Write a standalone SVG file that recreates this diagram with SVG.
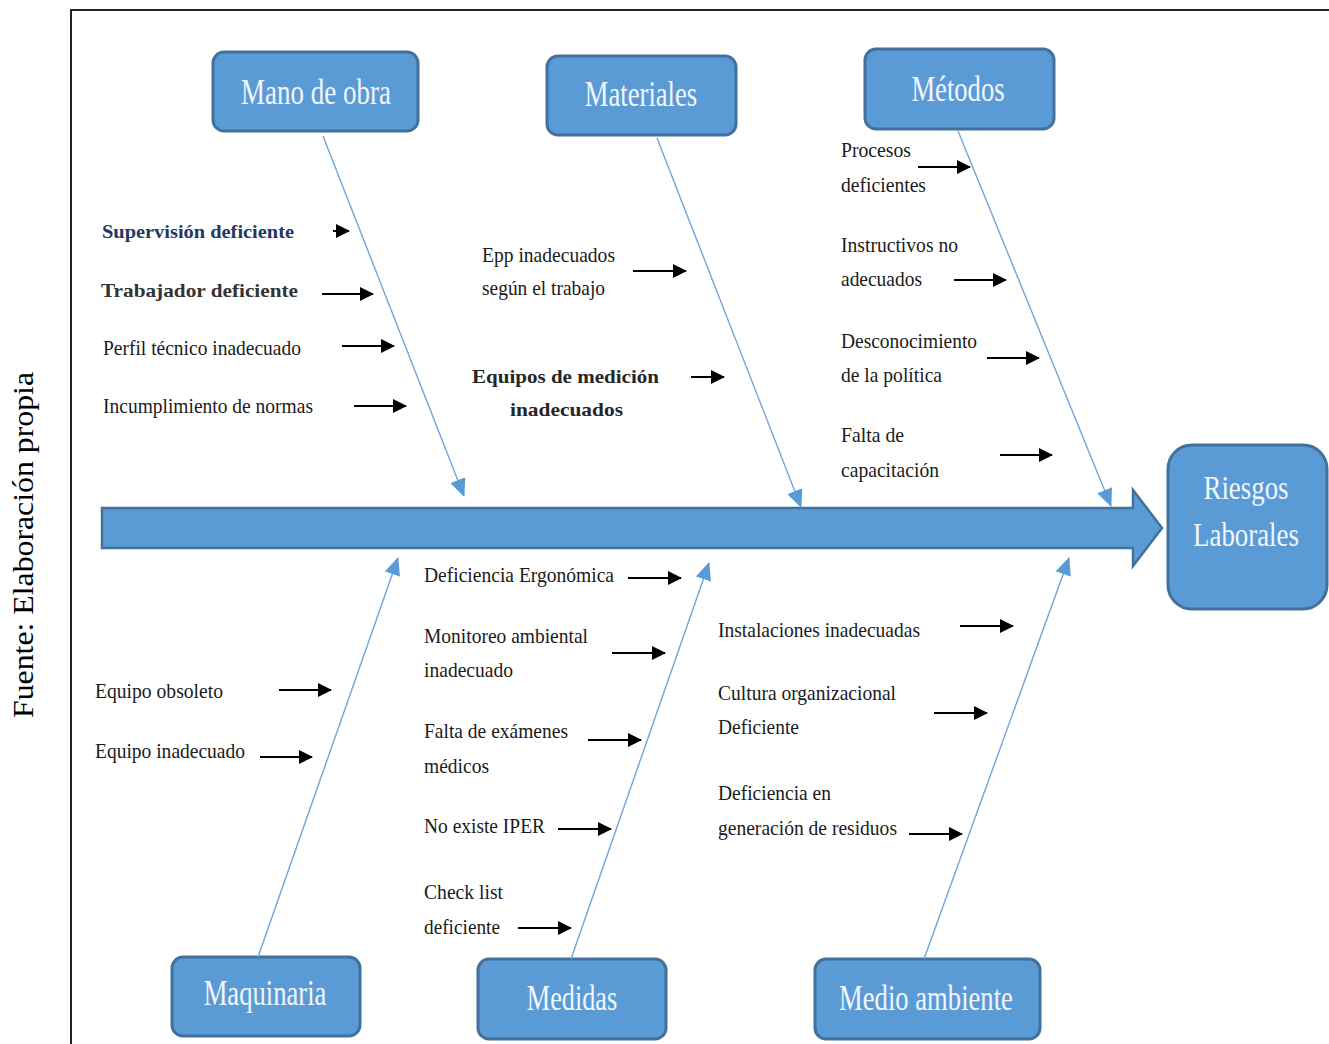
<svg xmlns="http://www.w3.org/2000/svg" width="1329" height="1044" viewBox="0 0 1329 1044">
<defs>
<style>
.box{fill:#5B9BD5;stroke:#41719C;stroke-width:3}
.bone{stroke:#6FA6DA;stroke-width:1.4;fill:none;marker-end:url(#bh)}
.ca{stroke:#000;stroke-width:2;fill:none;marker-end:url(#ah)}
</style>
<marker id="bh" markerUnits="userSpaceOnUse" markerWidth="18" markerHeight="16" viewBox="0 0 18 16" refX="17" refY="8" orient="auto">
<path d="M0,0 L18,8 L0,16 Z" fill="#5B9BD5"/>
</marker>
<marker id="ah" markerUnits="userSpaceOnUse" markerWidth="14" markerHeight="14" viewBox="0 0 14 14" refX="13" refY="7" orient="auto">
<path d="M0,0 L14,7 L0,14 Z" fill="#000"/>
</marker>
</defs>
<rect width="1329" height="1044" fill="#fff"/>
<path d="M71,1044 V10 H1329" fill="none" stroke="#222" stroke-width="2"/>
<g font-family="Liberation Serif, Times New Roman, serif">
<text transform="translate(33,545) rotate(-90)" font-size="29" fill="#000" text-anchor="middle" textLength="346" lengthAdjust="spacingAndGlyphs">Fuente: Elaboración propia</text>

<g id="spine">
<path d="M102,508 H1133 V490 L1162,528 L1133,566 V548 H102 Z" fill="#5B9BD5" stroke="#41719C" stroke-width="2.5"/>
</g>

<g font-size="36" fill="#F2F6FC" text-anchor="middle">
<g id="riesgos">
<rect class="box" x="1168" y="445" width="159" height="164" rx="24"/>
<text transform="translate(1246,499) scale(0.79,1)" font-size="34">Riesgos</text>
<text transform="translate(1246,546) scale(0.79,1)" font-size="34">Laborales</text>
</g>
<g id="mano-de-obra">
<rect class="box" x="213" y="52" width="205" height="79" rx="11"/>
<text transform="translate(316,104) scale(0.75,1)">Mano de obra</text>
</g>
<g id="materiales">
<rect class="box" x="547" y="56" width="189" height="79" rx="11"/>
<text transform="translate(641,106) scale(0.74,1)">Materiales</text>
</g>
<g id="metodos">
<rect class="box" x="865" y="49" width="189" height="80" rx="11"/>
<text transform="translate(958,101) scale(0.74,1)">Métodos</text>
</g>
<g id="maquinaria">
<rect class="box" x="172" y="957" width="188" height="79" rx="11"/>
<text transform="translate(265,1005) scale(0.74,1)">Maquinaria</text>
</g>
<g id="medidas">
<rect class="box" x="478" y="959" width="188" height="80" rx="11"/>
<text transform="translate(572,1010) scale(0.73,1)">Medidas</text>
</g>
<g id="medio-ambiente">
<rect class="box" x="815" y="959" width="225" height="80" rx="11"/>
<text transform="translate(926,1010) scale(0.74,1)">Medio ambiente</text>
</g>
</g>

<g id="connectors">
<line class="bone" x1="323" y1="136" x2="464" y2="496"/>
<line class="bone" x1="657" y1="138" x2="801" y2="507"/>
<line class="bone" x1="958" y1="131" x2="1111" y2="506"/>
<line class="bone" x1="258" y1="957" x2="398" y2="558"/>
<line class="bone" x1="571" y1="959" x2="709" y2="563"/>
<line class="bone" x1="924" y1="959" x2="1069" y2="558"/>

<line class="ca" x1="333" y1="231" x2="349" y2="231"/>
<line class="ca" x1="322" y1="294" x2="373" y2="294"/>
<line class="ca" x1="342" y1="346" x2="394" y2="346"/>
<line class="ca" x1="354" y1="406" x2="406" y2="406"/>

<line class="ca" x1="633" y1="271" x2="686" y2="271"/>
<line class="ca" x1="691" y1="377" x2="724" y2="377"/>

<line class="ca" x1="918" y1="167" x2="970" y2="167"/>
<line class="ca" x1="954" y1="280" x2="1006" y2="280"/>
<line class="ca" x1="987" y1="358" x2="1039" y2="358"/>
<line class="ca" x1="1000" y1="455" x2="1052" y2="455"/>

<line class="ca" x1="279" y1="690" x2="331" y2="690"/>
<line class="ca" x1="260" y1="757" x2="312" y2="757"/>

<line class="ca" x1="628" y1="578" x2="681" y2="578"/>
<line class="ca" x1="612" y1="653" x2="665" y2="653"/>
<line class="ca" x1="588" y1="740" x2="641" y2="740"/>
<line class="ca" x1="558" y1="829" x2="611" y2="829"/>
<line class="ca" x1="518" y1="928" x2="571" y2="928"/>

<line class="ca" x1="960" y1="626" x2="1013" y2="626"/>
<line class="ca" x1="934" y1="713" x2="987" y2="713"/>
<line class="ca" x1="909" y1="834" x2="962" y2="834"/>
</g>

<g font-size="19" font-weight="bold" fill="#262626">
<text id="t-supervision" x="102" y="238" fill="#1F3864" textLength="192" lengthAdjust="spacingAndGlyphs">Supervisión deficiente</text>
<text x="101" y="297" fill="#333" textLength="197" lengthAdjust="spacingAndGlyphs">Trabajador deficiente</text>
<text x="472" y="383" textLength="187" lengthAdjust="spacingAndGlyphs">Equipos de medición</text>
<text x="510" y="416" textLength="113" lengthAdjust="spacingAndGlyphs">inadecuados</text>
</g>

<g font-size="21" fill="#1a1a1a">
<g id="causes-mano-de-obra">
<text x="103" y="355" textLength="198" lengthAdjust="spacingAndGlyphs">Perfil técnico inadecuado</text>
<text x="103" y="413" textLength="210" lengthAdjust="spacingAndGlyphs">Incumplimiento de normas</text>
</g>
<g id="causes-materiales">
<text x="482" y="262" textLength="133" lengthAdjust="spacingAndGlyphs">Epp inadecuados</text>
<text x="482" y="295" textLength="123" lengthAdjust="spacingAndGlyphs">según el trabajo</text>
</g>
<g id="causes-metodos">
<text x="841" y="157" textLength="70" lengthAdjust="spacingAndGlyphs">Procesos</text>
<text x="841" y="192" textLength="85" lengthAdjust="spacingAndGlyphs">deficientes</text>
<text x="841" y="252" textLength="117" lengthAdjust="spacingAndGlyphs">Instructivos no</text>
<text x="841" y="286" textLength="81" lengthAdjust="spacingAndGlyphs">adecuados</text>
<text x="841" y="348" textLength="136" lengthAdjust="spacingAndGlyphs">Desconocimiento</text>
<text x="841" y="382" textLength="101" lengthAdjust="spacingAndGlyphs">de la política</text>
<text x="841" y="442" textLength="63" lengthAdjust="spacingAndGlyphs">Falta de</text>
<text x="841" y="477" textLength="98" lengthAdjust="spacingAndGlyphs">capacitación</text>
</g>
<g id="causes-maquinaria">
<text x="95" y="698" textLength="128" lengthAdjust="spacingAndGlyphs">Equipo obsoleto</text>
<text x="95" y="758" textLength="150" lengthAdjust="spacingAndGlyphs">Equipo inadecuado</text>
</g>
<g id="causes-medidas">
<text x="424" y="582" textLength="190" lengthAdjust="spacingAndGlyphs">Deficiencia Ergonómica</text>
<text x="424" y="643" textLength="164" lengthAdjust="spacingAndGlyphs">Monitoreo ambiental</text>
<text x="424" y="677" textLength="89" lengthAdjust="spacingAndGlyphs">inadecuado</text>
<text x="424" y="738" textLength="144" lengthAdjust="spacingAndGlyphs">Falta de exámenes</text>
<text x="424" y="773" textLength="65" lengthAdjust="spacingAndGlyphs">médicos</text>
<text x="424" y="833" textLength="121" lengthAdjust="spacingAndGlyphs">No existe IPER</text>
<text x="424" y="899" textLength="79" lengthAdjust="spacingAndGlyphs">Check list</text>
<text x="424" y="934" textLength="76" lengthAdjust="spacingAndGlyphs">deficiente</text>
</g>
<g id="causes-medio-ambiente">
<text x="718" y="637" textLength="202" lengthAdjust="spacingAndGlyphs">Instalaciones inadecuadas</text>
<text x="718" y="700" textLength="178" lengthAdjust="spacingAndGlyphs">Cultura organizacional</text>
<text x="718" y="734" textLength="81" lengthAdjust="spacingAndGlyphs">Deficiente</text>
<text x="718" y="800" textLength="113" lengthAdjust="spacingAndGlyphs">Deficiencia en</text>
<text x="718" y="835" textLength="179" lengthAdjust="spacingAndGlyphs">generación de residuos</text>
</g>
</g>
</g>
</svg>
